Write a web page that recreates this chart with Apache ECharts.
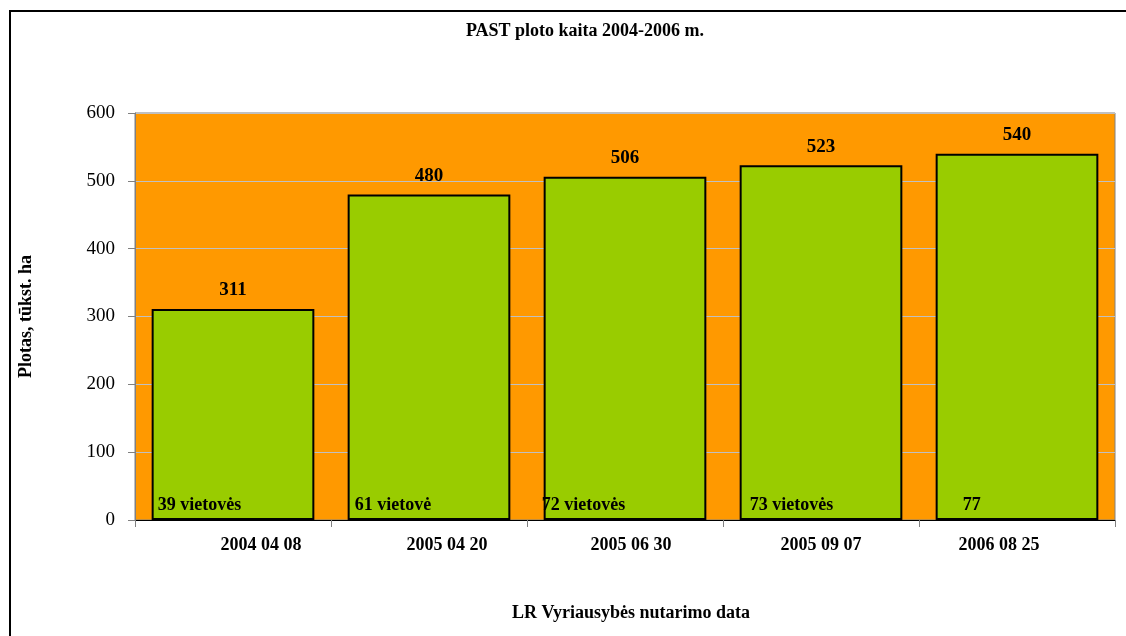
<!DOCTYPE html>
<html>
<head>
<meta charset="utf-8">
<script src="https://cdn.jsdelivr.net/npm/echarts@6/dist/echarts.min.js"></script>
<style>
  html, body { margin: 0; padding: 0; background: #fff; }
  #chart { width: 1126px; height: 636px; }
</style>
</head>
<body>
<div id="chart"></div>
<script>
// data
const dates = ['2004 04 08', '2005 04 20', '2005 06 30', '2005 09 07', '2006 08 25'];
const areas = [311, 480, 506, 523, 540];
const sites = ['39 vietovės', '61 vietovė', '72 vietovės', '73 vietovės', '77'];
const yTicks = [0, 100, 200, 300, 400, 500, 600];

// small per-label nudges so texts sit where the original put them
const siteShift = [0, 1, -8, 4, 21];
const datePad = [[0, 0, 0, 56], [0, 0, 0, 36], [0, 0, 0, 12], [0, 0, 0, 0], [0, 36, 0, 0]];

const serif = "'Liberation Serif', 'Times New Roman', serif";

let chart = echarts.init(document.getElementById('chart'));

let rich = {};
datePad.forEach(function (p, i) {
    rich['d' + i] = { padding: p, fontSize: 18, fontWeight: 'bold', fontFamily: serif, color: '#000' };
});

let option = {
    backgroundColor: '#fff',
    animation: false,
    graphic: [
        {
            type: 'rect',
            shape: { x: 10, y: 11, width: 1300, height: 800 },
            style: { fill: 'none', stroke: '#000', lineWidth: 2 },
            silent: true
        }
    ],
    title: {
        text: 'PAST ploto kaita 2004-2006 m.',
        left: 580,
        textAlign: 'center',
        top: 17,
        textStyle: { fontFamily: serif, fontWeight: 'bold', fontSize: 18, color: '#000' }
    },
    grid: {
        left: 135,
        right: 11,
        top: 113,
        bottom: 116,
        show: true,
        backgroundColor: '#FF9900',
        borderColor: '#808080',
        borderWidth: 1
    },
    xAxis: {
        type: 'category',
        data: dates,
        name: 'LR Vyriausybės nutarimo data',
        nameLocation: 'middle',
        nameGap: 84,
        nameTextStyle: { fontFamily: serif, fontWeight: 'bold', fontSize: 18, color: '#000', padding: [0, 0, 0, 12] },
        axisLine: { lineStyle: { color: '#000', width: 1 } },
        axisTick: { show: true, length: 7, lineStyle: { color: '#808080' } },
        axisLabel: {
            margin: 16,
            formatter: function (v, i) { return '{d' + i + '|' + v + '}'; },
            rich: rich
        }
    },
    yAxis: {
        type: 'value',
        min: yTicks[0],
        max: yTicks[yTicks.length - 1],
        interval: 100,
        name: 'Plotas, tūkst. ha',
        nameLocation: 'middle',
        nameGap: 100,
        nameRotate: 90,
        nameTextStyle: { fontFamily: serif, fontWeight: 'bold', fontSize: 18, color: '#000' },
        axisLine: { show: true, lineStyle: { color: '#808080' } },
        axisTick: { show: true, length: 7, lineStyle: { color: '#808080' } },
        axisLabel: { margin: 20, fontFamily: serif, fontSize: 19, color: '#000' },
        splitLine: { lineStyle: { color: '#C0C0C0' } }
    },
    series: [
        {
            type: 'bar',
            data: areas,
            barCategoryGap: '17%',
            itemStyle: { color: '#99CC00', borderColor: '#000', borderWidth: 2 },
            label: {
                show: true,
                position: 'top',
                distance: 9,
                fontFamily: serif,
                fontWeight: 'bold',
                fontSize: 19,
                color: '#000'
            }
        },
        {
            type: 'bar',
            barGap: '-100%',
            barCategoryGap: '17%',
            data: areas.map(function (v, i) {
                return { value: v, label: { offset: [siteShift[i], 0] } };
            }),
            itemStyle: { color: 'rgba(0,0,0,0)', borderWidth: 0 },
            silent: true,
            label: {
                show: true,
                position: 'insideBottomLeft',
                distance: 6,
                formatter: function (p) { return sites[p.dataIndex]; },
                fontFamily: serif,
                fontWeight: 'bold',
                fontSize: 18,
                color: '#000'
            }
        }
    ]
};

chart.setOption(option);
</script>
</body>
</html>
